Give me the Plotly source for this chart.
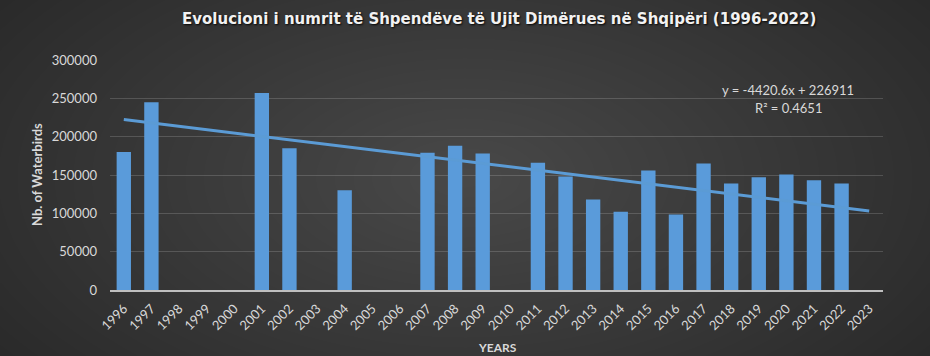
import plotly.graph_objects as go

# ---- data ----
years = [str(y) for y in range(1996, 2024)]
waterbirds = {
    "1996": 180000, "1997": 245000, "2001": 257000, "2002": 185000,
    "2004": 130000, "2007": 179000, "2008": 188000, "2009": 178000,
    "2011": 166000, "2012": 148000, "2013": 118000, "2014": 102000,
    "2015": 156000, "2016": 98500, "2017": 165000, "2018": 139000,
    "2019": 147000, "2020": 150500, "2021": 143000, "2022": 139000,
}
counts = [waterbirds.get(y) for y in years]
trend_slope = -4420.6
trend_intercept = 226911
trend_r2 = 0.4651
y_ticks = [0, 50000, 100000, 150000, 200000, 250000, 300000]

title_text = "Evolucioni i numrit të Shpendëve të Ujit Dimërues në Shqipëri (1996-2022)"

# trendline from the chart's own equation (x = 1..n over categories)
trend_y = [trend_intercept + trend_slope * (i + 1) for i in range(len(years))]

W, H = 930, 356
ML, MR, MT, MB = 110, 47, 60, 66
PW, PH = W - ML - MR, H - MT - MB
FONT = "Lato"
TXT = "#d9d9d9"
BLUE = "#5a9bda"


def px_x(p):
    return (p - ML) / PW


def px_y(p):
    return (H - MB - p) / PH


fig = go.Figure()
fig.add_trace(go.Bar(x=years, y=counts, marker=dict(color=BLUE, line=dict(width=0)),
                     showlegend=False))
fig.add_trace(go.Scatter(x=years, y=trend_y, mode="lines",
                         line=dict(color="#5b9bd5", width=3), showlegend=False))

# radial-ish background made of layered ellipses
shapes = []
N = 30
cx, cy = 465, 178
RX, RY = 560, 300
for i in range(N):
    f = 1 - i / N
    rx, ry = RX * f, RY * f
    shapes.append(dict(type="circle", xref="paper", yref="paper", layer="below",
                       x0=px_x(cx - rx), x1=px_x(cx + rx),
                       y0=px_y(cy + ry), y1=px_y(cy - ry),
                       line=dict(width=0), fillcolor="rgba(255,255,255,0.0075)"))

annotations = [
    dict(text="<b>Nb. of Waterbirds</b>", x=px_x(37), y=px_y(175),
         textangle=-90, font=dict(family=FONT, size=13, color=TXT)),
    dict(text="<b>YEARS</b>", x=px_x(497), y=px_y(347),
         font=dict(family=FONT, size=12, color=TXT)),
    dict(text=f"y = {trend_slope}x + {trend_intercept}", x=px_x(788), y=px_y(90),
         font=dict(family=FONT, size=13, color=TXT)),
    dict(text=f"R² = {trend_r2}", x=px_x(788), y=px_y(108),
         font=dict(family=FONT, size=13, color=TXT)),
    dict(text=f"<b>{title_text}</b>", x=px_x(499), y=px_y(19),
         font=dict(family="DejaVu Sans", size=15, color="#f2f2f2",
                   shadow="1px 1px 2px rgba(0,0,0,0.9)")),
]
for a in annotations:
    a.update(xref="paper", yref="paper", showarrow=False, xanchor="center", yanchor="middle")

fig.update_layout(
    width=W, height=H,
    margin=dict(l=ML, r=MR, t=MT, b=MB),
    paper_bgcolor="#2a2a2a",
    plot_bgcolor="rgba(0,0,0,0)",
    bargap=0.48,
    shapes=shapes,
    annotations=annotations,
    xaxis=dict(type="category", categoryorder="array", categoryarray=years,
               tickangle=-45, tickfont=dict(family=FONT, size=13, color=TXT),
               showline=True, linecolor="#bfbfbf", linewidth=2,
               showgrid=False, ticks="", ticklabelstandoff=4),
    yaxis=dict(range=[0, 300000], tickvals=y_ticks, tickformat="d",
               tickfont=dict(family=FONT, size=13, color=TXT),
               showgrid=True, gridcolor="rgba(255,255,255,0.16)", gridwidth=1,
               zeroline=False, showline=False, ticks="", ticklabelstandoff=12),
)

fig.write_html("out.html", config={"displayModeBar": False},
               post_script="document.body.style.margin='0';document.body.style.overflow='hidden';")
